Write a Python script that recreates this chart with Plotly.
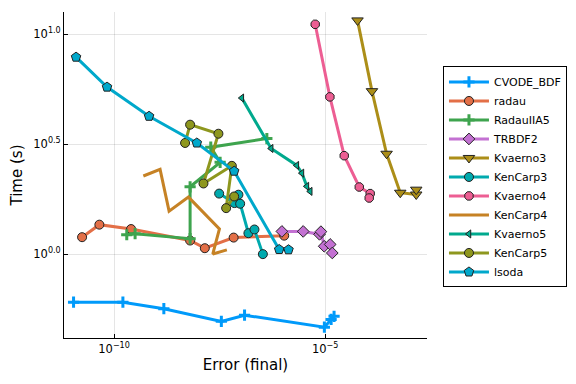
import plotly.graph_objects as go

# ---- data (error, time) ----
cvode_err = [1.10e-11, 1.62e-10, 1.51e-9, 3.47e-8, 1.23e-7, 9.55e-6, 1.38e-5, 1.62e-5]
cvode_t = [0.605, 0.605, 0.565, 0.495, 0.528, 0.466, 0.505, 0.522]

radau_err = [1.75e-11, 4.49e-11, 2.53e-10, 6.32e-9, 1.41e-8, 6.79e-8, 1.07e-6]
radau_t = [1.194, 1.361, 1.300, 1.153, 1.064, 1.189, 1.213]

radauiia5_err = [2.00e-10, 3.15e-10, 6.32e-9, 6.32e-9, 3.25e-8, 1.95e-8, 4.15e-7]
radauiia5_t = [1.225, 1.239, 1.175, 2.023, 2.612, 3.062, 3.350]

trbdf2_err = [9.42e-7, 3.01e-6, 7.33e-6, 7.91e-6, 9.46e-6, 1.31e-5, 1.47e-5]
trbdf2_t = [1.268, 1.268, 1.230, 1.265, 1.086, 1.107, 1.012]

kvaerno3_err = [5.82e-5, 1.28e-4, 2.84e-4, 5.98e-4, 1.43e-3, 1.43e-3]
kvaerno3_t = [11.53, 5.50, 2.858, 1.901, 1.866, 1.963]

kencarp3_err = [3.08e-8, 7.10e-8, 8.81e-8, 9.68e-8, 1.52e-7, 2.11e-7, 3.34e-7]
kencarp3_t = [1.884, 1.706, 1.862, 1.694, 1.245, 1.294, 1.000]

kvaerno4_err = [5.79e-6, 1.29e-5, 2.82e-5, 6.40e-5, 1.16e-4, 1.10e-4]
kvaerno4_t = [11.07, 5.18, 2.80, 2.018, 1.884, 1.799]

kencarp4_err = [4.94e-10, 1.23e-9, 2.01e-9, 5.77e-9, 3.13e-8, 2.18e-8, 4.69e-8]
kencarp4_t = [2.265, 2.427, 1.567, 1.816, 1.303, 1.002, 1.045]

kvaerno5_err = [1.06e-7, 5.25e-7, 2.13e-6, 2.81e-6, 3.68e-6, 4.42e-6]
kvaerno5_t = [5.12, 3.02, 2.529, 2.333, 2.032, 1.928]

kencarp5_err = [4.81e-9, 6.32e-9, 2.96e-8, 1.31e-8, 6.15e-8, 4.51e-8, 6.98e-8]
kencarp5_t = [3.199, 3.873, 3.524, 2.094, 2.518, 1.618, 1.828]

lsoda_err = [1.26e-11, 6.82e-11, 6.75e-10, 9.12e-9, 6.98e-8, 8.13e-7, 1.35e-6]
lsoda_t = [7.85, 5.74, 4.23, 3.199, 2.382, 1.050, 1.047]

x_tickvals = [1e-10, 1e-5]
x_ticktext = ["10<sup>−10</sup>", "10<sup>−5</sup>"]
y_tickvals = [1.0, 10 ** 0.5, 10.0]
y_ticktext = ["10<sup>0.0</sup>", "10<sup>0.5</sup>", "10<sup>1.0</sup>"]

series = [
    ("CVODE_BDF", cvode_err, cvode_t, "#009AFA", "cross-thin", 8),
    ("radau", radau_err, radau_t, "#E36F47", "circle", 9),
    ("RadauIIA5", radauiia5_err, radauiia5_t, "#3EA44E", "cross-thin", 8),
    ("TRBDF2", trbdf2_err, trbdf2_t, "#C371D2", "diamond", 9),
    ("Kvaerno3", kvaerno3_err, kvaerno3_t, "#AC8E18", "triangle-down", 10),
    ("KenCarp3", kencarp3_err, kencarp3_t, "#00AAAE", "circle", 9),
    ("Kvaerno4", kvaerno4_err, kvaerno4_t, "#ED5E93", "octagon", 9),
    ("KenCarp4", kencarp4_err, kencarp4_t, "#C68225", None, 0),
    ("Kvaerno5", kvaerno5_err, kvaerno5_t, "#00A98D", "triangle-left", 7),
    ("KenCarp5", kencarp5_err, kencarp5_t, "#8E971E", "circle", 9),
    ("lsoda", lsoda_err, lsoda_t, "#00A8CB", "pentagon", 10),
]

fig = go.Figure()
for name, xs, ys, col, sym, sz in series:
    if sym is None:
        fig.add_trace(go.Scatter(x=xs, y=ys, name=name, mode="lines",
                                 line=dict(color=col, width=3)))
    elif sym == "cross-thin":
        fig.add_trace(go.Scatter(x=xs, y=ys, name=name, mode="lines+markers",
                                 line=dict(color=col, width=3),
                                 marker=dict(symbol=sym, size=sz, color=col,
                                             line=dict(color=col, width=3))))
    else:
        fig.add_trace(go.Scatter(x=xs, y=ys, name=name, mode="lines+markers",
                                 line=dict(color=col, width=3),
                                 marker=dict(symbol=sym, size=sz, color=col,
                                             line=dict(color="#222222", width=1))))

fig.update_layout(
    width=576, height=384,
    margin=dict(l=64, r=149, t=12, b=46, autoexpand=False),
    paper_bgcolor="white", plot_bgcolor="white",
    font=dict(family="DejaVu Sans", color="black"),
    showlegend=True,
    legend=dict(x=1.044, xanchor="left", y=0.494, yanchor="middle",
                bordercolor="black", borderwidth=1, bgcolor="white",
                font=dict(size=11, family="DejaVu Sans"), itemwidth=40,
                tracegroupgap=0),
)
fig.update_xaxes(
    type="log", range=[-11.185, -2.59], automargin=False,
    tickvals=x_tickvals, ticktext=x_ticktext,
    tickfont=dict(size=11.5), ticks="inside", ticklen=4, tickcolor="black",
    showgrid=True, gridcolor="rgba(0,0,0,0.1)", gridwidth=1,
    showline=True, linecolor="black", linewidth=1, mirror=False,
    zeroline=False,
    title=dict(text="Error (final)", font=dict(size=15), standoff=4),
)
fig.update_yaxes(
    type="log", range=[-0.381, 1.100], automargin=False,
    tickvals=y_tickvals, ticktext=y_ticktext,
    tickfont=dict(size=11.5), ticks="inside", ticklen=4, tickcolor="black",
    showgrid=True, gridcolor="rgba(0,0,0,0.1)", gridwidth=1,
    showline=True, linecolor="black", linewidth=1, mirror=False,
    zeroline=False,
    title=dict(text="Time (s)", font=dict(size=15), standoff=6),
)

fig.write_html("out.html",
               config={"displayModeBar": False},
               post_script="document.body.style.margin='0';document.body.style.overflow='hidden';")
